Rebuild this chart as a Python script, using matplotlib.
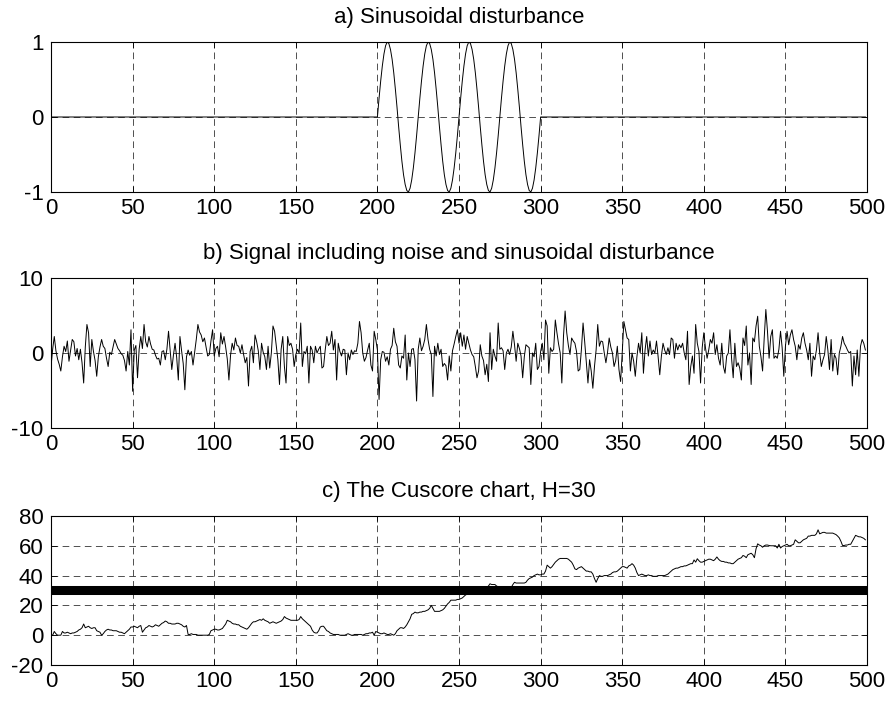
import numpy as np
import matplotlib.pyplot as plt

# panel a: sinusoidal disturbance (zero outside 200..300, period 25)
wave_cycle = [0.0, 0.25, 0.48, 0.68, 0.84, 0.95, 1.0, 0.98, 0.9, 0.77, 0.59, 0.37, 0.13,
              -0.13, -0.37, -0.59, -0.77, -0.9, -0.98, -1.0, -0.95, -0.84, -0.68, -0.48, -0.25]
disturbance = [0.0] * 200 + wave_cycle * 4 + [0.0] * 200

# panel b: signal = noise + disturbance
signal = [
    -1.8, 0.5, 2.2, 0.3, -0.8, -1.5, -2.4, -0.5, 0.9, 0.2, 1.6, -1.1, 0.4, 1.8, 1.5, -0.4, 0.6, -0.9, 0.5, -1.3, -4.0, 0.8, 3.8, 2.7, -1.8,
    1.8, 0.2, -1.0, -3.1, -0.5, 0.8, 1.8, 0.9, 0.6, -0.7, -1.8, 0.1, -0.2, 0.8, 1.8, 1.2, 0.6, 0.3, -0.1, -0.3, -1.0, -2.4, 0.2, -1.6, 3.1,
    -5.1, 0.4, 1.0, -3.3, 0.5, 2.2, 0.6, 3.8, 1.5, 0.8, 2.2, 1.2, 0.5, 0.4, -0.3, -0.8, -0.7, -1.6, 0.2, 0.3, -0.9, 0.5, 2.9, 0.4, -2.2,
    -0.3, 1.3, -0.6, -3.6, 2.2, 0.3, -1.4, -4.9, -0.5, 0.4, -0.3, 0.2, -1.6, 0.1, 1.8, 3.8, 2.8, 2.4, 1.5, 2.0, 0.8, -0.4, -0.2, 1.6, 3.1,
    -0.4, 0.6, 0.9, -0.5, 2.7, 1.2, 2.2, 0.8, -0.8, -3.6, -0.3, 1.3, 0.4, 2.0, 1.0, 0.9, 0.0, 1.1, -0.2, -1.3, -0.6, -4.4, 0.2, 0.9, -1.3,
    2.4, 1.5, 0.3, -2.2, 1.3, 0.1, -0.5, -2.2, 0.9, -2.0, 0.0, 3.6, 2.9, 1.0, -0.9, -4.2, 0.5, 2.2, -1.8, -4.0, 2.2, 1.0, 1.3, 0.5, -1.8,
    -0.2, 0.5, 0.0, 4.0, -1.8, 0.2, -0.1, 0.9, -4.0, 0.9, 0.4, -1.3, 0.9, 0.0, 0.5, 0.9, -2.0, -1.8, 0.4, 2.2, 1.0, 1.3, 2.9, 0.4, 1.8,
    -3.6, 1.3, 0.2, -0.4, 0.5, 0.4, -2.9, 0.0, -0.9, 0.4, -0.2, 0.3, 0.2, 1.3, 4.2, 2.7, 0.0, -1.1, -0.6, 0.4, 1.3, -1.6, -2.4, 2.9, 1.8,
    0.4, -6.2, -0.9, 0.2, 0.1, -1.1, -0.5, -1.6, 0.5, 1.0, 3.3, 1.5, 0.9, -1.6, -2.0, -0.4, -0.7, 2.4, -3.6, 0.0, -1.8, 0.5, 0.6, -0.9, -6.4,
    0.5, 2.0, 0.3, 0.9, 1.8, 3.8, 1.8, 0.5, -0.2, -5.8, 0.9, -0.4, 1.3, -0.2, 0.5, -1.8, -1.4, -1.7, -3.6, -0.4, -2.4, 0.3, 1.2, 2.2, 3.1,
    1.3, 2.7, 0.9, 2.4, 0.5, 2.2, 1.3, 0.4, -0.2, -0.5, -1.8, -3.3, -2.4, 1.1, -0.4, -1.0, -2.9, -1.5, -3.8, 2.7, -2.2, 0.5, -0.4, -1.1, 4.0,
    0.5, 0.7, 0.3, -2.2, 0.0, 0.5, -0.2, 0.8, 2.9, 1.1, -1.1, 1.3, 0.6, -0.4, -3.3, -0.5, 1.1, 0.9, 0.7, -4.2, 0.0, -0.5, 1.3, -2.2, -1.8,
    0.2, 1.3, -0.9, 4.4, 3.6, -2.7, 0.7, 0.2, 0.5, 4.4, 2.7, 1.2, 0.0, -4.0, 2.2, 5.6, 2.7, 1.0, -0.2, 2.0, 1.6, 1.3, 0.2, -2.4, -2.2,
    0.5, 4.0, 1.5, -1.3, -4.0, -0.9, -2.4, -4.7, -1.8, 0.4, 3.8, 0.9, 1.6, 1.5, 0.0, -1.3, 0.1, 2.0, 0.8, 0.0, -1.8, -1.0, 0.9, -2.2, -3.8,
    0.0, 4.2, 3.1, 2.0, 1.8, -2.4, 0.0, -1.1, -3.1, -0.5, 1.3, 0.0, 2.7, -2.7, 0.4, 2.2, -0.4, 1.6, -0.2, 0.4, 0.0, 1.6, -0.5, -2.9, -0.4,
    1.3, 0.4, -0.2, 0.7, -0.2, 2.0, 1.8, -0.7, 1.3, 0.4, 1.1, 0.7, 1.3, 0.0, -0.9, 2.9, -4.2, -1.8, -0.4, -2.7, 3.8, 1.3, 0.2, -4.0, 0.7,
    2.7, 0.7, -0.7, 0.4, 1.8, 1.3, 2.7, -0.2, 1.1, -0.7, -1.6, 1.3, -1.8, -2.7, -0.4, 0.0, 3.1, -0.7, -3.3, 1.3, -1.8, -1.3, -2.0, -3.6, 2.0,
    1.0, 3.6, -1.6, 0.0, -4.2, 2.0, 1.5, 3.6, 4.9, 0.9, -0.5, -2.4, 2.0, 5.8, 2.9, -0.7, 2.2, 3.1, -0.7, -0.4, -0.7, 0.5, 2.9, 0.7, -3.1,
    0.9, 2.9, 1.1, 2.4, 3.1, 1.8, 0.9, -0.9, 1.1, 0.5, 2.0, 2.7, 1.3, 0.4, -0.9, 1.3, -3.1, -0.4, -0.9, 0.4, 2.7, 0.0, -1.8, -0.9, -0.2,
    2.2, 0.4, -2.2, 1.8, -2.4, -0.2, -0.7, -2.9, 0.0, 0.9, 2.2, 1.3, 0.9, 0.4, 0.0, 0.2, -4.4, -0.4, -2.9, 0.4, -3.1, 0.9, 1.8, 1.3, 0.4,
]

# panel c: Cuscore statistic and decision limit
cuscore = [
    0, 0, 2.5, 1, 0, 0, 0, 2.5, 1.5, 1.5, 2, 1.5, 1, 1.5, 1.5, 2, 2.5, 3.5, 4, 5, 7.5, 5, 5.5, 6, 5,
    4.5, 5, 5, 3, 2.5, 2, 0, 1, 2.5, 3.5, 4, 3.5, 3.5, 3, 3, 3, 2.5, 2, 2, 1.5, 1, 2, 3, 4, 5.5,
    5.5, 6, 5.5, 5, 6, 6.5, 2, 3.5, 5, 5.5, 6.5, 6, 5.5, 6, 7, 6.5, 6, 7, 8, 8.5, 9.5, 9, 8, 8, 7.5,
    7.5, 7.5, 8, 8, 7.5, 7, 6, 5.5, 6.5, 0.5, 0.5, 1, 0.5, 0.5, 0.5, 0, 0, 0, 0, 0, 0, 0, 0.5, 3, 3.5,
    4, 4, 3.5, 3.5, 4, 4.5, 6, 7.5, 10, 9.5, 9, 8, 7.5, 7.5, 7, 7, 6, 5.5, 5, 4.5, 4, 5, 6.5, 8, 9,
    9, 9.5, 10, 10.5, 10, 11, 10, 9.5, 9, 8, 8.5, 9, 8.5, 8, 8.5, 9, 9.5, 10.5, 12.5, 11.5, 11, 10.5, 10, 10, 10,
    10, 10, 10.5, 12.5, 11, 10, 9, 8, 7, 6, 3.5, 2, 1.5, 1.5, 3, 5.5, 6, 6, 4.5, 3, 2.5, 1.5, 1, 0.5, 0.5,
    0.5, 0.5, 0, 0, 0, 0, 0.5, 1, 0.5, 0, 0, 0.5, 0.5, 0.5, 0.5, 0.5, 0, 0.5, 1, 1, 1.5, 1.5, 2, 0, 2.5,
    2, 1.5, 1, 1, 1.5, 1, 0.5, 0.5, 1, 0.5, 0, 1, 3, 4, 5, 5, 4.5, 5.5, 7, 9, 11, 14, 14.5, 15.5, 15,
    15, 15.5, 15.5, 16, 16, 16.5, 17, 18, 20, 18, 16, 16, 16, 16, 16.5, 17, 18, 19.5, 21, 22, 23.5, 23.5, 23.5, 23.5, 24,
    24, 24.5, 25, 26, 27, 27.5, 27.5, 28, 28.5, 29, 29, 29.5, 30, 30, 30, 30, 31, 32, 33, 34.5, 34, 34, 34, 33, 32.5,
    32, 31.5, 31, 30.5, 30, 30.5, 31, 32, 34, 35.5, 35, 35, 35, 35, 35, 35, 35.5, 37, 38, 38.5, 39, 40, 40.5, 41, 40.5,
    40.5, 41, 41, 43, 47, 46, 45, 46, 47.5, 49, 50, 51, 51.5, 51.5, 51.5, 51.5, 51.5, 51, 50, 49, 47, 44.5, 44, 45, 45.5,
    46, 45, 44, 43, 43, 42.5, 42.5, 41, 38, 35.5, 38, 40, 39.5, 39.5, 40, 40, 40, 40.5, 41, 42, 42.5, 42.5, 43, 44, 45,
    46, 46, 45.5, 45, 46.5, 47, 48, 47, 45, 42, 40, 40.5, 41, 40.5, 40, 40, 40.5, 40, 40, 39.5, 39.5, 39.5, 40, 40, 40,
    40, 40, 40.5, 41, 42, 43, 44, 44.5, 45, 45, 45.5, 46, 46, 46.5, 46.5, 47, 47.5, 48, 48, 50.5, 49, 51.3, 50, 49, 49,
    49.5, 50, 50.5, 51, 51, 50.5, 50, 51, 52.5, 51, 50, 49.5, 49.5, 49, 49, 48.5, 48.5, 48, 48, 49, 50, 51, 51.5, 52, 53.5,
    53, 52, 54, 54.5, 55, 54, 52, 58, 61.3, 60.5, 60, 59, 60, 60.5, 60.5, 60.2, 60, 60, 60, 60, 58.5, 61, 58.5, 59.5, 60,
    60.5, 61, 60, 60, 60.5, 61, 64, 63, 62, 62, 63, 64, 64.5, 65, 66.5, 66.5, 67, 67, 67, 68, 70.7, 68, 68.5, 69, 69,
    68.5, 68.5, 68.5, 68.5, 68.5, 68, 67.5, 66.5, 65.3, 63, 60.2, 60.2, 60.5, 60.5, 61, 61, 63, 65, 67, 66.5, 66, 66, 65.5, 65, 64,
]
H = 30

titles = ['a) Sinusoidal disturbance',
          'b) Signal including noise and sinusoidal disturbance',
          'c) The Cuscore chart, H=30']
x_ticks = [0, 50, 100, 150, 200, 250, 300, 350, 400, 450, 500]
y_ticks = [[-1, 0, 1], [-10, 0, 10], [-20, 0, 20, 40, 60, 80]]

plt.rcParams['font.family'] = ['Liberation Sans', 'DejaVu Sans']
plt.rcParams['font.size'] = 16
plt.rcParams['axes.unicode_minus'] = False
plt.rcParams['lines.scale_dashes'] = False

fig = plt.figure(figsize=(8.92, 7.02), dpi=100)
positions = [[0.0572, 0.7265, 0.9148, 0.2137],
             [0.0572, 0.3903, 0.9148, 0.2137],
             [0.0572, 0.0527, 0.9148, 0.2123]]
axes = [fig.add_axes(p) for p in positions]

axes[0].plot(np.arange(len(disturbance)), disturbance, color='black', lw=0.7)
axes[1].plot(np.arange(len(signal)), signal, color='black', lw=0.7)
axes[2].axhline(H, color='black', lw=6.5, zorder=2)
axes[2].plot(np.arange(len(cuscore)), cuscore, color='black', lw=0.7, zorder=3)

for ax, title, yt in zip(axes, titles, y_ticks):
    ax.set_xlim(0, 500)
    ax.set_ylim(yt[0], yt[-1])
    ax.set_xticks(x_ticks)
    ax.set_yticks(yt)
    ax.grid(True, color='0.2', linestyle=(0, (4.8, 3.2)), linewidth=0.6)
    ax.set_axisbelow(True)
    ax.tick_params(direction='in', top=True, right=True, length=4, width=0.6)
    ax.tick_params(axis='x', pad=4.3)
    ax.tick_params(axis='y', pad=5.5)
    for s in ax.spines.values():
        s.set_linewidth(0.8)
    ax.set_title(title, fontsize=16, pad=14)

fig.savefig('out.png', dpi=100)
